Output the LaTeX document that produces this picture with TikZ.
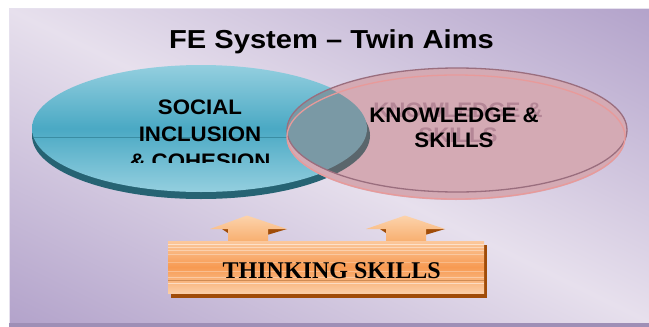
\documentclass[tikz,border=0pt]{standalone}
\usepackage{fontspec}
\setmainfont{Liberation Serif}
\newfontfamily\arialf{Liberation Sans}
\definecolor{bgpurple}{HTML}{AC9BC6}
\definecolor{bglight}{HTML}{E7E0ED}
\definecolor{blueL}{HTML}{94CFDF}
\definecolor{blueM}{HTML}{4AA9C4}
\definecolor{blueD}{HTML}{266373}
\definecolor{blueLine}{HTML}{3A8DA3}
\definecolor{pinkF}{HTML}{D4AAB4}
\definecolor{pinkE}{HTML}{E89A9A}
\definecolor{mauveE}{HTML}{9A6E7E}
\definecolor{overlapC}{HTML}{7A99A5}
\definecolor{overlapD}{HTML}{5A666C}
\definecolor{ghostC}{HTML}{B48696}
\definecolor{orL}{HTML}{FBC89C}
\definecolor{orM}{HTML}{F79A52}
\definecolor{arL}{HTML}{FCD3AC}
\definecolor{arM}{HTML}{F8AE6E}
\definecolor{brownS}{HTML}{A04C08}
\tikzset{
  sansbig/.style={font=\arialf\bfseries\fontsize{21}{27}\selectfont, align=center, inner sep=0pt, xscale=1.06},
  arrowshape/.style={top color=arL, bottom color=arM},
}
\begin{document}
\begin{tikzpicture}[x=1pt,y=-1pt]
\useasboundingbox (0,0) rectangle (649,327);
\fill[white] (0,0) rectangle (649,327);
% background panel
\begin{scope}
  \clip (9,8) rectangle (649,323);
  \shade[top color=bgpurple, bottom color=bgpurple, middle color=bglight, shading angle=-26] (9,-154.5) rectangle (649,485.5);
\end{scope}
\fill[bgpurple!92!black] (9,323) rectangle (649,327);
\draw[white!70!bgpurple, line width=0.6] (9,8.3) -- (649,8.3);
\draw[white!70!bgpurple, line width=0.6] (9.3,8) -- (9.3,323);

% blue ellipse
\fill[blueD] (201,135.5) ellipse [x radius=169, y radius=63.5];
\shade[top color=blueL, bottom color=blueL, middle color=blueM] (201,128.5) ellipse [x radius=169, y radius=63.5];
\begin{scope}
  \clip (201,128.5) ellipse [x radius=169, y radius=63.5];
  \draw[blueLine, line width=0.7] (20,137) -- (380,137);
\end{scope}
\begin{scope}
  \clip (0,0) rectangle (649,162.5);
  \node[sansbig, anchor=north] (social) at (200,100) {SOCIAL\\INCLUSION\\\& COHESION};
\end{scope}

% pink ellipse
\fill[pinkF] (457,130) ellipse [x radius=170, y radius=62];
\fill[pinkF] (456,138) ellipse [x radius=169, y radius=62];
% overlap
\begin{scope}
  \clip (457,130) ellipse [x radius=170, y radius=62];
  \fill[overlapD] (201,135.5) ellipse [x radius=169, y radius=63.5];
  \fill[overlapC] (199,128.5) ellipse [x radius=168, y radius=63.5];
\end{scope}
\draw[mauveE, line width=1.3] (457,130) ellipse [x radius=170, y radius=62];
\draw[pinkE, line width=1.3] (456,137) ellipse [x radius=169, y radius=62];

\node[sansbig, anchor=north, text=ghostC, font=\arialf\bfseries\fontsize{21}{25}\selectfont] (ghost) at (458,103) {KNOWLEDGE \&\\SKILLS};
\node[sansbig, anchor=north, font=\arialf\bfseries\fontsize{21}{25}\selectfont] (knowledge) at (454,108) {KNOWLEDGE \&\\SKILLS};

% title
\node[font=\arialf\bfseries\fontsize{26}{30}\selectfont, anchor=base, inner sep=0pt, xscale=1.12] (title) at (331.5,48.3) {FE System \textendash{} Twin Aims};

% arrows
\fill[brownS] (222,229) -- (228,229) -- (228,233) -- cycle;
\fill[brownS] (267,229) -- (287,229) -- (267,235) -- cycle;
\fill[brownS] (380,229) -- (386,229) -- (386,233) -- cycle;
\fill[brownS] (425,229) -- (445,229) -- (425,235) -- cycle;
\shade[arrowshape] (228,242) -- (228,229) -- (210,229) -- (247,215.5) -- (287,229) -- (268,229) -- (268,242) -- cycle;
\shade[arrowshape] (386,242) -- (386,229) -- (366,229) -- (405,215.5) -- (445,229) -- (426,229) -- (426,242) -- cycle;

% thinking skills box
\fill[brownS] (171,245) rectangle (487,298);
\shade[top color=orL, bottom color=orL!90!white, middle color=orM] (168,241) rectangle (484,293);
\foreach \yy/\op in {244/0.5, 247/0.4, 250/0.35, 254/0.3, 262/0.25, 271/0.3, 277/0.35, 283/0.5}
  \draw[white, opacity=\op, line width=0.6] (168,\yy) -- (484,\yy);
\draw[brownS!80, line width=0.6, opacity=0.6] (168,280) -- (484,280);
\node[font=\bfseries\fontsize{24}{28}\selectfont, anchor=base, inner sep=0pt] (thinking) at (331.7,278) {THINKING SKILLS};
\end{tikzpicture}
\end{document}
